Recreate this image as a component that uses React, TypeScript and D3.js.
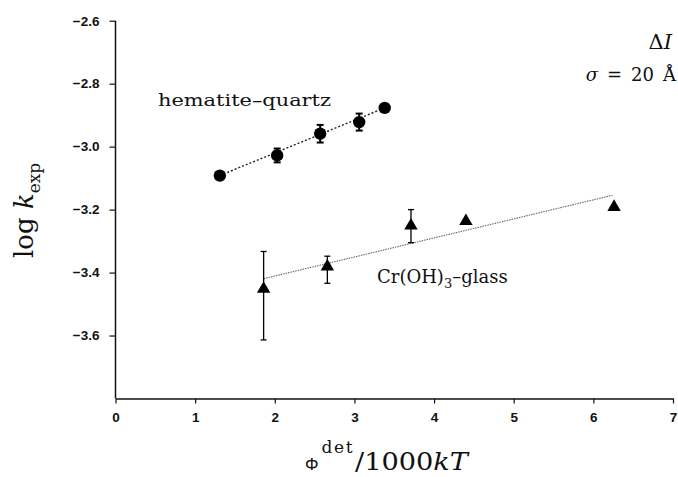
import React, { useEffect, useRef } from 'react';
import * as d3 from 'd3';

// hematite-quartz (circles)
const hemX = [1.31, 2.03, 2.57, 3.06, 3.38];
const hemY = [-3.092, -3.028, -2.959, -2.922, -2.877];
const hemErr = [0, 0.022, 0.028, 0.027, 0];
const hemFit = { a: -3.228, b: 0.1039, x0: 1.31, x1: 3.38 };

// Cr(OH)3-glass (triangles)
const crX = [1.86, 2.66, 3.71, 4.4, 6.26];
const crY = [-3.452, -3.381, -3.251, -3.237, -3.192];
const crLo = [-3.614, -3.434, -3.305, null, null];
const crHi = [-3.333, -3.348, -3.2, null, null];
const crFit = { a: -3.532, b: 0.0605, x0: 1.86, x1: 6.24 };

const xTicks = [0, 1, 2, 3, 4, 5, 6, 7];
const yTicks = [-2.6, -2.8, -3.0, -3.2, -3.4, -3.6];

const W = 678, H = 477;

const App = () => {
  const ref = useRef<SVGSVGElement>(null);

  useEffect(() => {
    const svg = d3.select(ref.current);
    svg.selectAll('*').remove();

    const x = d3.scaleLinear().domain([0, 7]).range([115.5, 673]);
    const y = d3.scaleLinear().domain([-3.8, -2.6]).range([398.5, 20.7]);

    const sans = 'Liberation Sans, Arial, sans-serif';
    const serif = 'DejaVu Serif, serif';

    // axes
    const xAxis = d3.axisBottom(x).tickValues(xTicks).tickSize(5).tickSizeOuter(0).tickPadding(9)
      .tickFormat(d3.format('d'));
    const gx = svg.append('g').attr('transform', `translate(0, ${y(-3.8)})`).call(xAxis);
    const yAxis = d3.axisLeft(y).tickValues(yTicks).tickSize(6).tickSizeOuter(0).tickPadding(10)
      .tickFormat(d3.format('.1f'));
    const gy = svg.append('g').attr('transform', `translate(${x(0)}, 0)`).call(yAxis);

    [gx, gy].forEach(g => {
      g.select('.domain').attr('stroke', '#111').attr('stroke-width', 1.5);
      g.selectAll('.tick line').attr('stroke', '#111').attr('stroke-width', 1.2);
      g.selectAll('.tick text').attr('fill', '#111').style('font-family', sans)
        .style('font-size', '13.5px').style('font-weight', 'bold');
    });
    gy.select('.domain').attr('d', `M0,${y(-3.8)}V${y(-2.6)}`);

    // fit lines
    const line = d3.line<number>().x(d => x(d));
    svg.append('path')
      .attr('d', line.y(d => y(hemFit.a + hemFit.b * d))([hemFit.x0, hemFit.x1]))
      .attr('stroke', '#222').attr('stroke-width', 1.4).attr('stroke-dasharray', '2,2').attr('fill', 'none');
    svg.append('path')
      .attr('d', line.y(d => y(crFit.a + crFit.b * d))([crFit.x0, crFit.x1]))
      .attr('stroke', '#666').attr('stroke-width', 1.1).attr('stroke-dasharray', '1.5,1').attr('fill', 'none');

    // hematite error bars
    hemX.forEach((xv, i) => {
      if (!hemErr[i]) return;
      const g = svg.append('g').attr('stroke', '#000').attr('stroke-width', 2);
      const lo = y(hemY[i] - hemErr[i]), hi = y(hemY[i] + hemErr[i]), cx = x(xv);
      g.append('line').attr('x1', cx).attr('x2', cx).attr('y1', lo).attr('y2', hi);
      g.append('line').attr('x1', cx - 3.5).attr('x2', cx + 3.5).attr('y1', lo).attr('y2', lo);
      g.append('line').attr('x1', cx - 3.5).attr('x2', cx + 3.5).attr('y1', hi).attr('y2', hi);
    });
    svg.selectAll('.hem').data(hemX).enter().append('circle')
      .attr('cx', d => x(d)).attr('cy', (d, i) => y(hemY[i])).attr('r', 6.2).attr('fill', '#000');

    // Cr error bars
    crX.forEach((xv, i) => {
      const l = crLo[i], h = crHi[i];
      if (l == null || h == null) return;
      const g = svg.append('g').attr('stroke', '#000').attr('stroke-width', 1.3);
      const lo = y(l), hi = y(h), cx = x(xv);
      g.append('line').attr('x1', cx).attr('x2', cx).attr('y1', lo).attr('y2', hi);
      g.append('line').attr('x1', cx - 3).attr('x2', cx + 3).attr('y1', lo).attr('y2', lo);
      g.append('line').attr('x1', cx - 3).attr('x2', cx + 3).attr('y1', hi).attr('y2', hi);
    });
    const tri = d3.symbol().type(d3.symbolTriangle).size(78);
    svg.selectAll('.cr').data(crX).enter().append('path')
      .attr('d', tri() as string)
      .attr('transform', (d, i) => `translate(${x(d)}, ${y(crY[i])})`).attr('fill', '#000');

    // annotations
    svg.append('text').attr('x', 158).attr('y', 105.5).attr('textLength', 173).attr('lengthAdjust', 'spacingAndGlyphs')
      .style('font-family', serif).style('font-size', '17px').attr('fill', '#111').text('hematite\u2013quartz');

    const cr = svg.append('text').attr('x', 377).attr('y', 283.3)
      .style('font-family', serif).style('font-size', '18px').attr('fill', '#111');
    cr.append('tspan').text('Cr(OH)');
    cr.append('tspan').attr('dy', 5).style('font-size', '13px').text('3');
    cr.append('tspan').attr('dy', -5).text('\u2013glass');

    svg.append('text').attr('x', 672).attr('y', 48.5).attr('text-anchor', 'end')
      .style('font-family', serif).style('font-size', '21px').attr('fill', '#111')
      .html('\u0394<tspan font-style="italic">I</tspan>');
    svg.append('text').attr('x', 676).attr('y', 81).attr('text-anchor', 'end')
      .style('font-family', serif).style('font-size', '18px').attr('fill', '#111')
      .html('<tspan font-style="italic">\u03c3</tspan>\u2002=\u200220\u2002\u00c5');

    // y label
    const yl = svg.append('text').attr('transform', 'translate(33, 258) rotate(-90)')
      .style('font-family', serif).style('font-size', '26px').attr('fill', '#111');
    yl.append('tspan').text('log ');
    yl.append('tspan').style('font-style', 'italic').text('k');
    yl.append('tspan').attr('dy', 7).style('font-size', '17px').text('exp');

    // x label
    svg.append('text').attr('x', 305).attr('y', 470).style('font-family', sans)
      .style('font-size', '17px').attr('fill', '#111').text('\u03a6');
    svg.append('text').attr('x', 321.5).attr('y', 453).attr('textLength', 31)
      .style('font-family', serif).style('font-size', '17px').attr('fill', '#111').text('det');
    const xl = svg.append('text').attr('x', 355).attr('y', 470)
      .attr('textLength', 113).attr('lengthAdjust', 'spacingAndGlyphs')
      .style('font-family', serif).style('font-size', '25px').attr('fill', '#111');
    xl.append('tspan').text('/1000');
    xl.append('tspan').style('font-style', 'italic').text('kT');
  }, []);

  return (
    <svg ref={ref} width={W} height={H}
      style={{ position: 'absolute', left: 0, top: 0, background: '#fff' }} />
  );
};

export default App;
